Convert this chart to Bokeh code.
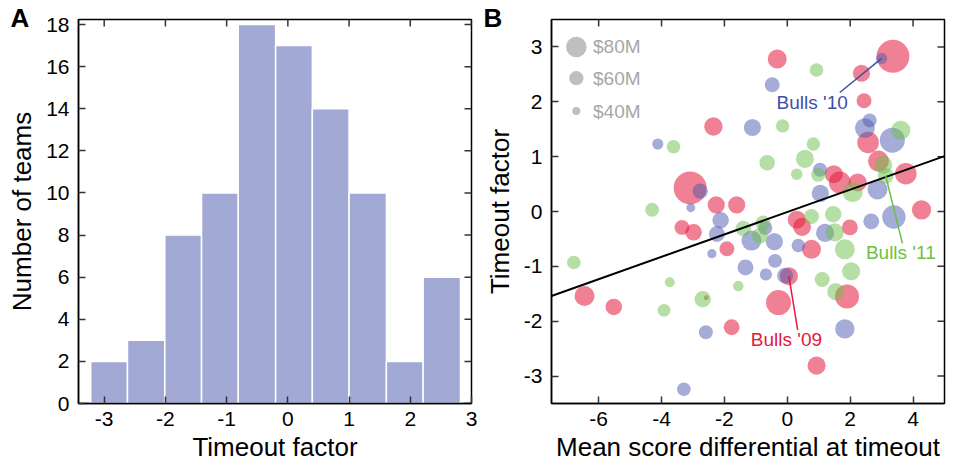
import math
from bokeh.plotting import figure
from bokeh.models import FixedTicker, Title
from bokeh.layouts import row
from bokeh.embed import file_html
from bokeh.resources import INLINE
from bokeh.core.properties import value

# ---------------- Panel A data ----------------
bin_edges = [-3.22, -2.62, -2.01, -1.41, -0.81, -0.20, 0.40, 1.00, 1.61, 2.21, 2.82]
team_counts = [2, 3, 8, 10, 18, 17, 14, 10, 2, 6]
hist_xticks = [-3, -2, -1, 0, 1, 2, 3]
hist_yticks = [0, 2, 4, 6, 8, 10, 12, 14, 16, 18]

# ---------------- Panel B data ----------------
# season 2009 (red)
x09 = [-0.32, 3.36, 2.36, 2.44, 2.57, 2.90, 3.77, 4.27, 2.24, 1.48, 1.67, -2.35, -3.09, -2.26, -1.61,
       -3.35, -2.98, -1.92, 0.30, 0.47, 0.77, 1.99, 0.05, 1.90, 0.93, -0.28, -1.77, -2.58, -5.52, -6.45]
y09 = [2.78, 2.83, 2.52, 2.02, 1.26, 0.92, 0.69, 0.03, 0.53, 0.68, 0.53, 1.55, 0.43, 0.12, 0.12,
       -0.29, -0.38, -0.68, -0.15, -0.28, -0.69, -0.29, -1.18, -1.55, -2.81, -1.66, -2.11, -1.57, -1.74, -1.54]
pay09 = [75, 119, 69, 62, 83, 81, 83, 76, 72, 72, 84, 73, 119, 69, 69,
         62, 67, 62, 72, 72, 75, 65, 72, 91, 72, 94, 65, 30, 67, 78]
# season 2010 (blue)
x10 = [-0.48, 3.00, 2.47, 2.62, 3.34, 3.39, 2.87, 2.67, 1.04, -1.11, -4.12, -2.77, -3.07, -2.12, -2.24,
       -2.40, -1.14, -0.41, -0.39, -1.33, -0.68, -0.07, 0.35, 1.20, 1.05, 1.83, -2.59, -3.29, -0.70]
y10 = [2.31, 2.79, 1.52, 1.66, 1.30, -0.10, 0.40, -0.18, 0.76, 1.53, 1.23, 0.37, 0.07, -0.16, -0.41,
       -0.77, -0.53, -0.55, -0.90, -1.02, -1.15, -1.17, -0.62, -0.39, 0.33, -2.14, -2.20, -3.24, -0.30]
pay10 = [62, 50, 78, 59, 94, 89, 78, 65, 59, 69, 50, 63, 43, 67, 65,
         44, 78, 69, 59, 65, 53, 65, 57, 72, 69, 76, 59, 58, 59]
# season 2011 (green)
x11 = [0.93, 3.61, 3.05, 3.13, 2.08, 0.98, 0.30, 0.56, 0.83, -0.64, -0.15, -3.62, -4.30, -1.40,
       -0.77, -0.87, 0.77, 1.46, 1.51, 1.83, 2.03, 1.11, 1.54, -1.56, -2.69, -3.74, -3.92, -6.79]
y11 = [2.58, 1.48, 0.85, 0.65, 0.35, 0.67, 0.68, 0.96, 1.23, 0.89, 1.56, 1.18, 0.03, -0.31,
       -0.21, -0.44, -0.09, -0.05, -0.38, -0.69, -1.09, -1.24, -1.46, -1.36, -1.60, -1.29, -1.80, -0.93]
pay11 = [58, 75, 72, 65, 78, 59, 51, 72, 57, 64, 57, 58, 59, 64,
         62, 65, 62, 67, 72, 78, 72, 62, 69, 48, 67, 46, 55, 58]

bulls09_index = 22
bulls10_index = 1
bulls11_index = 3

fit_slope = 0.204
fit_intercept = -0.01

legend_pay = [80, 60, 40]
legend_labels = ["$80M", "$60M", "$40M"]
legend_y = [3.0, 2.43, 1.83]

scatter_xticks = [-6, -4, -2, 0, 2, 4]
scatter_yticks = [-3, -2, -1, 0, 1, 2, 3]

FONT = "Liberation Sans"
TICK_COLOR = "#333333"


def diam(pays):
    return [2 * (4 + 0.1575 * (v - 40)) for v in pays]


def style_axis(ax, ticks, standoff):
    ax.ticker = FixedTicker(ticks=ticks)
    ax.axis_line_color = "black"
    ax.axis_line_width = 1.5
    ax.major_tick_in = 7
    ax.major_tick_out = 0
    ax.major_tick_line_color = TICK_COLOR
    ax.major_tick_line_width = 1.5
    ax.minor_tick_line_color = None
    ax.major_label_text_font = FONT
    ax.major_label_text_color = "black"
    ax.major_label_overrides = {t: str(t) for t in ticks}
    ax.major_label_text_font_size = "21px"
    ax.major_label_standoff = standoff
    ax.axis_label_text_font = FONT
    ax.axis_label_text_font_size = "26px"
    ax.axis_label_text_font_style = "normal"
    ax.axis_label_text_color = "black"


def make_fig(xr, yr, xticks, yticks, xlabel, ylabel, left_border, right_border, letter):
    p = figure(x_range=xr, y_range=yr, frame_width=393, frame_height=384,
               output_backend="svg", toolbar_location=None,
               min_border_left=left_border, min_border_right=right_border,
               min_border_top=19, min_border_bottom=0)
    p.grid.visible = False
    p.outline_line_color = "black"
    p.outline_line_width = 1.5
    style_axis(p.xaxis[0], xticks, 8)
    style_axis(p.yaxis[0], yticks, 9)
    p.xaxis[0].axis_label = xlabel
    p.xaxis[0].axis_label_standoff = 3
    p.yaxis[0].axis_label = ylabel
    p.yaxis[0].axis_label_standoff = 6
    # mirrored inward ticks on top and right edges
    p.ray(x=xticks, y=[yr[1]] * len(xticks), length=7, angle=-math.pi / 2,
          length_units="screen", line_color=TICK_COLOR, line_width=1.5)
    p.ray(x=[xr[1]] * len(yticks), y=yticks, length=7, angle=math.pi,
          length_units="screen", line_color=TICK_COLOR, line_width=1.5)
    p.add_layout(Title(text=letter, align="left", vertical_align="bottom",
                       offset=-68, standoff=-26, text_font=FONT,
                       text_font_size="26px", text_font_style="bold",
                       text_color="black"), "above")
    return p


# ---------------- Panel A ----------------
pa = make_fig((-3.42, 3.0), (0, 18.24), hist_xticks, hist_yticks,
              "Timeout factor", "Number of teams", 78, 10, "A")
pa.quad(left=bin_edges[:-1], right=bin_edges[1:], bottom=0, top=team_counts,
        fill_color="#A1A9D4", line_color="white", line_width=1.5)

# ---------------- Panel B ----------------
pb = make_fig((-7.5, 5.0), (-3.5, 3.5), scatter_xticks, scatter_yticks,
              "Mean score differential at timeout", "Timeout factor", 70, 10, "B")

pb.scatter(x=x09, y=y09, size=diam(pay09), marker="circle",
           fill_color="#E3183C", fill_alpha=0.55, line_color=None)
pb.scatter(x=x10, y=y10, size=diam(pay10), marker="circle",
           fill_color="#4A5AB0", fill_alpha=0.5, line_color=None)
pb.scatter(x=x11, y=y11, size=diam(pay11), marker="circle",
           fill_color="#6CC04A", fill_alpha=0.5, line_color=None)

# size legend
pb.scatter(x=[-6.71] * 3, y=legend_y, size=diam(legend_pay), marker="circle",
           fill_color="#BFBFBF", line_color=None)
pb.text(x=[-6.18] * 3, y=legend_y, text=legend_labels, text_font=value(FONT),
        text_font_size="19px", text_color="#A6A6A6", text_baseline="middle", text_align="left")

# fit line
fx = [-7.5, 5.0]
pb.line(x=fx, y=[fit_slope * v + fit_intercept for v in fx], line_color="black", line_width=2)

# Bulls annotations
pb.line(x=[1.67, x10[bulls10_index]], y=[2.17, y10[bulls10_index]], line_color="#3F4FA6", line_width=1.5)
pb.line(x=[3.66, x11[bulls11_index]], y=[-0.58, y11[bulls11_index]], line_color="#6DBF45", line_width=1.5)
pb.line(x=[0.33, x09[bulls09_index]], y=[-2.16, y09[bulls09_index]], line_color="#E3173E", line_width=1.5)
pb.text(x=[-0.34], y=[1.98], text=["Bulls '10"], text_font=value(FONT), text_font_size="19px",
        text_color="#3F4FA6", text_baseline="middle", text_align="left")
pb.text(x=[2.50], y=[-0.75], text=["Bulls '11"], text_font=value(FONT), text_font_size="19px",
        text_color="#6DBF45", text_baseline="middle", text_align="left")
pb.text(x=[-1.16], y=[-2.34], text=["Bulls '09"], text_font=value(FONT), text_font_size="19px",
        text_color="#E3173E", text_baseline="middle", text_align="left")

layout = row(pa, pb)
open("out.html", "w").write(file_html(layout, INLINE))
